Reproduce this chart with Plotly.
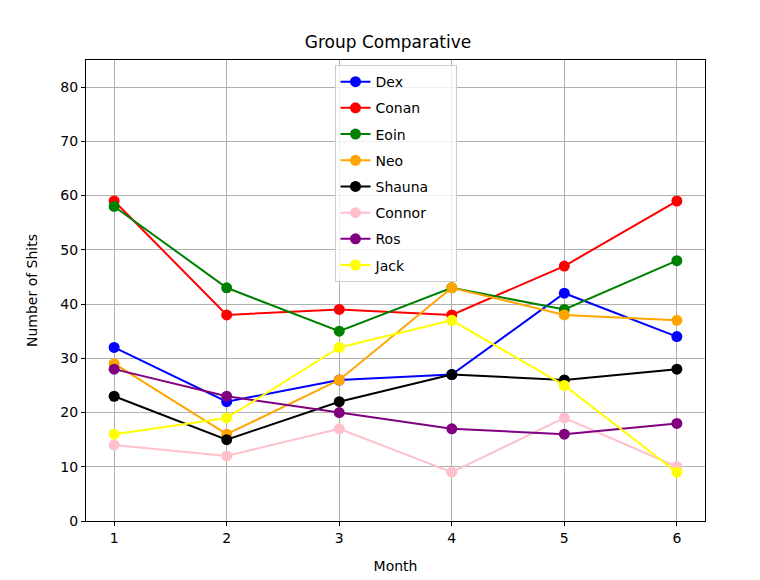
import plotly.graph_objects as go

months = [1, 2, 3, 4, 5, 6]

names = ["Dex", "Conan", "Eoin", "Neo", "Shauna", "Connor", "Ros", "Jack"]
colors = ["blue", "red", "green", "orange", "black", "pink", "purple", "yellow"]

dex = [32, 22, 26, 27, 42, 34]
conan = [59, 38, 39, 38, 47, 59]
eoin = [58, 43, 35, 43, 39, 48]
neo = [29, 16, 26, 43, 38, 37]
shauna = [23, 15, 22, 27, 26, 28]
connor = [14, 12, 17, 9, 19, 10]
ros = [28, 23, 20, 17, 16, 18]
jack = [16, 19, 32, 37, 25, 9]

series = [dex, conan, eoin, neo, shauna, connor, ros, jack]

fig = go.Figure()
for name, col, vals in zip(names, colors, series):
    fig.add_trace(go.Scatter(
        x=months, y=vals, name=name + "     ", legendgroup=name,
        mode="lines+markers",
        line=dict(color=col, width=2),
        marker=dict(color=col, size=11),
    ))

axis_style = dict(
    showline=True, linecolor="black", linewidth=1, mirror=True,
    showgrid=True, gridcolor="#b0b0b0", gridwidth=1,
    ticks="outside", ticklen=4, tickcolor="black",
    zeroline=False, tickfont=dict(size=14, color="black"),
)

fig.update_layout(
    width=760, height=580,
    font=dict(family="DejaVu Sans", size=14, color="black"),
    paper_bgcolor="white", plot_bgcolor="white",
    margin=dict(l=78, r=63, t=52, b=67),
    title=dict(text="Group Comparative", x=0.5, xanchor="center", y=0.941, yanchor="middle",
               font=dict(size=17)),
    legend=dict(
        x=0.5, xanchor="center", y=0.989, yanchor="top",
        bgcolor="rgba(255,255,255,0.8)", bordercolor="#cccccc", borderwidth=1,
        font=dict(size=14), tracegroupgap=5,
    ),
)
fig.update_xaxes(axis_style, range=[0.75, 6.25], tickvals=months,
                 title=dict(text="Month", font=dict(size=14), standoff=16))
fig.update_yaxes(axis_style, range=[0, 85], dtick=10,
                 title=dict(text="Number of Shits", font=dict(size=14), standoff=19))

fig.write_html("out.html")
